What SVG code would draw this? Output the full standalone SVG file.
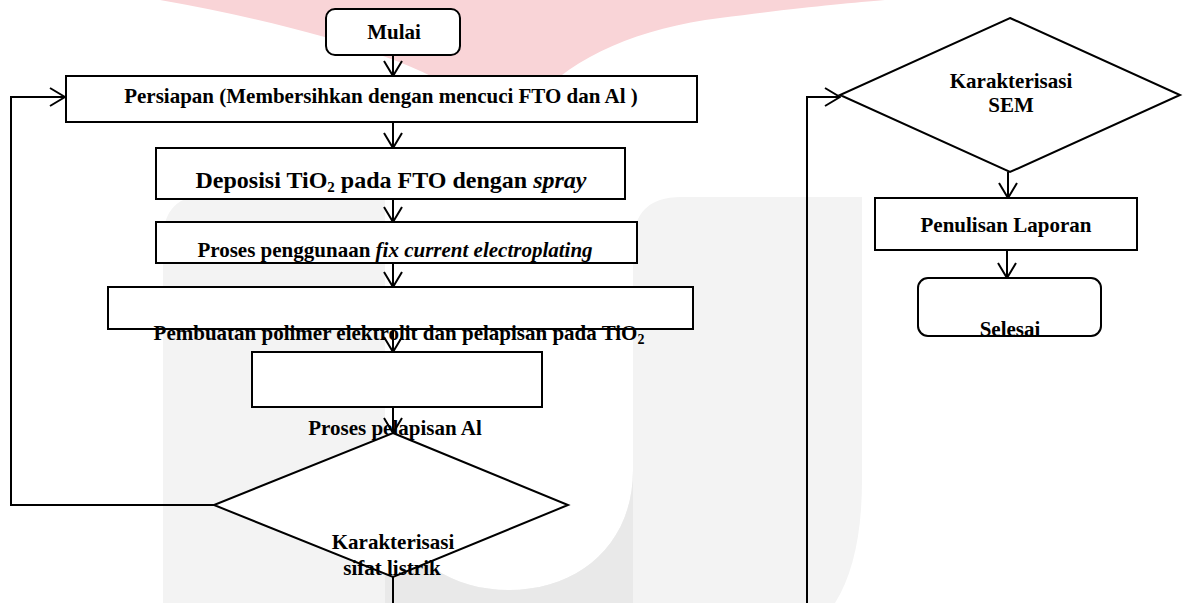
<svg xmlns="http://www.w3.org/2000/svg" width="1184" height="603" viewBox="0 0 1184 603">
<style>
.box{fill:#fff;stroke:#000;stroke-width:2}
.ln{fill:none;stroke:#000;stroke-width:2}
.t{font-family:"Liberation Serif","Times New Roman",serif;font-weight:bold;font-size:21px;fill:#000;text-anchor:middle}
.it{font-style:italic}
</style>
<defs>
<marker id="ah" markerUnits="userSpaceOnUse" viewBox="0 0 17 20" refX="16" refY="10" markerWidth="17" markerHeight="20" orient="auto">
<path d="M1,1 L16,10 L1,19" fill="none" stroke="#000" stroke-width="2"/>
</marker>
</defs>
<rect width="1184" height="603" fill="#fff"/>
<g id="watermark">
<path d="M160,0 L885,0 C850,3 795,8 720,18 C640,28 575,55 535,100 L470,100 C420,60 300,25 160,0 Z" fill="#f9d4d7"/>
<path d="M163,603 V240 Q163,195 208,195 H385 V470 C385,545 440,590 509,590 C578,590 633,545 633,470 V245 Q633,197 681,197 H862 V480 Q862,560 835,603 Z" fill="#f3f3f3"/>
<path d="M385,603 V470 C385,545 440,590 509,590 C578,590 633,545 633,470 V603 Z" fill="#e9e9e9"/>
</g>
<g id="mulai">
<rect class="box" x="326" y="9" width="134" height="46" rx="9"/>
<text class="t" x="394" y="39">Mulai</text>
</g>
<g id="persiapan">
<rect class="box" x="66" y="76" width="631" height="46"/>
<text class="t" x="381" y="103">Persiapan (Membersihkan dengan mencuci FTO dan Al )</text>
</g>
<g id="deposisi">
<rect class="box" x="156" y="148" width="469" height="51"/>
<text class="t" x="391" y="188" style="font-size:24px">Deposisi TiO<tspan font-size="15" dy="4">2</tspan><tspan dy="-4"> pada FTO dengan </tspan><tspan class="it">spray</tspan></text>
</g>
<g id="electroplating">
<rect class="box" x="156" y="222" width="481" height="41"/>
<text class="t" x="395" y="257">Proses penggunaan <tspan class="it">fix current electroplating</tspan></text>
</g>
<g id="polimer">
<rect class="box" x="108" y="287" width="585" height="42"/>
<text class="t" x="399" y="340">Pembuatan polimer elektrolit dan pelapisan pada TiO<tspan font-size="14" dy="4">2</tspan></text>
</g>
<g id="pelapisan">
<rect class="box" x="252" y="352" width="290" height="55"/>
<text class="t" x="395" y="435">Proses pelapisan Al</text>
</g>
<g id="listrik">
<polygon class="box" points="393,433 568,505 393,577 214,505"/>
<text class="t" x="393" y="549">Karakterisasi</text>
<text class="t" x="392" y="575">sifat listrik</text>
</g>
<g id="sem">
<polygon class="box" points="1010,18 1180,95 1010,172 840,95"/>
<text class="t" x="1011" y="88">Karakterisasi</text>
<text class="t" x="1011" y="112">SEM</text>
</g>
<g id="laporan">
<rect class="box" x="875" y="198" width="262" height="52"/>
<text class="t" x="1006" y="232">Penulisan Laporan</text>
</g>
<g id="selesai">
<rect class="box" x="918" y="278" width="183" height="58" rx="10"/>
<text class="t" x="1010" y="336">Selesai</text>
</g>
<g id="connectors">
<path class="ln" d="M393,55 V76" marker-end="url(#ah)"/>
<path class="ln" d="M393,122 V148" marker-end="url(#ah)"/>
<path class="ln" d="M393,199 V222" marker-end="url(#ah)"/>
<path class="ln" d="M393,263 V287" marker-end="url(#ah)"/>
<path class="ln" d="M393,329 V352" marker-end="url(#ah)"/>
<path class="ln" d="M393,407 V433" marker-end="url(#ah)"/>
<path class="ln" d="M214,505 H11 V97 H65" marker-end="url(#ah)"/>
<path class="ln" d="M393,577 V603"/>
<path class="ln" d="M807,603 V97 H840" marker-end="url(#ah)"/>
<path class="ln" d="M1008,172 V198" marker-end="url(#ah)"/>
<path class="ln" d="M1007,250 V278" marker-end="url(#ah)"/>
</g>
</svg>
